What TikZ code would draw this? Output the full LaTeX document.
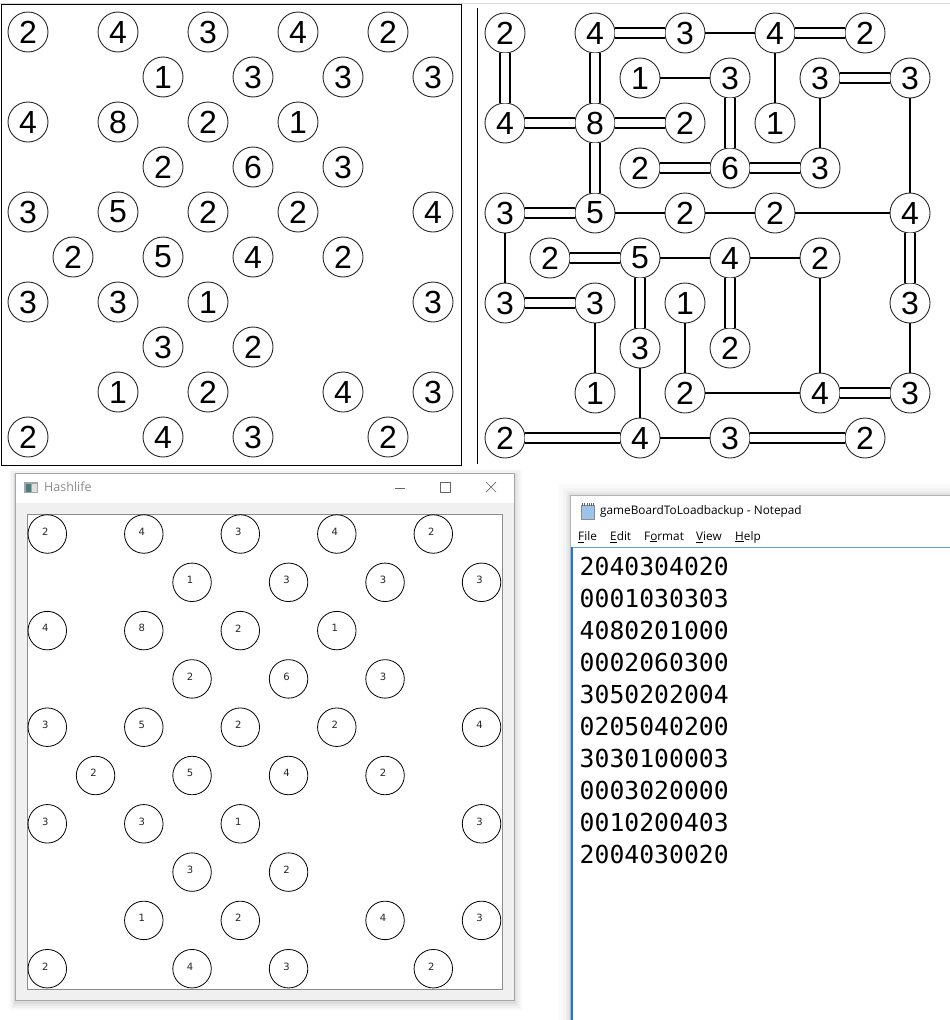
\documentclass[tikz,border=0pt]{standalone}
\usepackage{fontspec}
\setmainfont{Liberation Sans}
\setmonofont{DejaVu Sans Mono}
\newfontfamily\uifont{Open Sans}
\newfontfamily\cellfont{DejaVu Sans}
\usetikzlibrary{calc}
\definecolor{winbg}{HTML}{F0F0F0}
\definecolor{focusblue}{HTML}{1E78D2}
\definecolor{padblue}{HTML}{9CC4EA}

% islands of the puzzle: column/row/value
\newcommand{\puzzle}{0/0/2,2/0/4,4/0/3,6/0/4,8/0/2,
  3/1/1,5/1/3,7/1/3,9/1/3,
  0/2/4,2/2/8,4/2/2,6/2/1,
  3/3/2,5/3/6,7/3/3,
  0/4/3,2/4/5,4/4/2,6/4/2,9/4/4,
  1/5/2,3/5/5,5/5/4,7/5/2,
  0/6/3,2/6/3,4/6/1,9/6/3,
  3/7/3,5/7/2,
  2/8/1,4/8/2,7/8/4,9/8/3,
  0/9/2,3/9/4,5/9/3,8/9/2}

\begin{document}
\begin{tikzpicture}[x=1pt, y=-1pt,
    island/.style={draw=black!85, circle, minimum size=40pt, inner sep=0pt, line width=0.9pt, font=\fontsize{32}{32}\selectfont},
    cell/.style={draw=black, circle, minimum size=38.5pt, inner sep=0pt, line width=0.8pt},
    tag/.style={inner sep=0pt, text=black!85, font=\cellfont\fontsize{10}{10}\selectfont},
    bridge/.style={line width=1.8pt},
    dbridge/.style={line width=1.8pt, double, double distance=8pt},
    menu/.style={anchor=west, inner sep=0pt, font=\uifont\fontsize{11.8}{12}\selectfont},
    digits/.style={anchor=west, inner sep=0pt, font=\ttfamily\fontsize{24.75}{26}\selectfont}]
  \useasboundingbox (0,0) rectangle (950,1020);
  \draw[black!15] (0,3) -- (950,3);

  % puzzle and solution frames
  \draw[line width=1pt] (1,4.5) rectangle (461.5,465);
  \draw[line width=1pt] (477.5,8) -- (477.5,464);

  % Hashlife window
  \foreach \s/\o in {7/0.025,5/0.03,3/0.04,1.5/0.05}
    \fill[black, opacity=\o] (15.5-\s,473.5-\s+2) rectangle (514.5+\s,1000.5+\s+2);
  \filldraw[fill=winbg, draw=black!35] (15.5,473.5) rectangle (514.5,1000.5);
  \fill[white] (16,474) rectangle (514,503);
  \fill[black!35] (24,482) rectangle (38,493);
  \fill[teal!45!gray] (25.5,483.5) rectangle (31,491.5);
  \fill[black!12] (32,483.5) rectangle (36.5,491.5);
  \node[menu, text=black!45, font=\uifont\fontsize{12.5}{13}\selectfont] (hltitle) at (44,487) {Hashlife};
  \draw[black!60, line width=0.7pt] (395,488) -- (405,488);
  \draw[black!60, line width=0.7pt] (440.5,482.5) rectangle (450.5,492.5);
  \draw[black!60, line width=0.7pt] (486,482) -- (496,492) (486,492) -- (496,482);
  \filldraw[fill=white, draw=black!45] (27,514) rectangle (502,989);

  % Notepad window
  \foreach \s/\o in {12/0.02,8/0.025,5/0.03,2.5/0.04}
    \fill[black, opacity=\o] (570.5-\s,495.5-\s) rectangle (980,1040);
  \fill[white] (570.5,495.5) rectangle (980,1040);
  \draw[black!30] (570.5,1020) -- (570.5,495.5) -- (950,495.5);
  \fill[padblue] (581,505) rectangle (594,519);
  \draw[black!45, line width=0.6pt] (581,505) rectangle (594,519);
  \foreach \k in {0,...,5}
    \draw[black!60, line width=0.8pt] (582.5+2.2*\k,503) -- (582.5+2.2*\k,506);
  \node[menu] (nptitle) at (600,511) {gameBoardToLoadbackup - Notepad};
  \node[menu] (mfile) at (578,537) {\underline{F}ile};
  \node[menu] (medit) at (610,537) {\underline{E}dit};
  \node[menu] (mformat) at (644,537) {F\underline{o}rmat};
  \node[menu] (mview) at (696,537) {\underline{V}iew};
  \node[menu] (mhelp) at (735,537) {\underline{H}elp};
  \draw[focusblue!70, line width=0.8pt] (571,547.5) -- (950,547.5);
  \draw[focusblue, line width=2.2pt] (572,547) -- (572,1020);
  \foreach \txt [count=\i from 0] in {2040304020,0001030303,4080201000,0002060300,3050202004,
      0205040200,3030100003,0003020000,0010200403,2004030020}
    \node[digits] (line\i) at (579.5,566+32.1*\i) {\txt};

  % islands on the three boards
  \foreach \c/\r/\v in \puzzle {
    \node[island] (L-\c-\r) at (28+45*\c,32+45*\r) {\v};
    \node[island] (R-\c-\r) at (505+45*\c,33+45*\r) {\v};
    \node[cell] (H-\c-\r) at (47.3+48.25*\c,534+48.3*\r) {};
    \node[tag] (HT-\c-\r) at ($(H-\c-\r)+(-2,-2.3)$) {\v};
  }

  % bridges of the solution
  \foreach \a/\b in {4-0/6-0,3-1/5-1,6-0/6-2,7-1/7-3,9-1/9-4,2-4/4-4,4-4/6-4,6-4/9-4,0-4/0-6,
      3-5/5-5,5-5/7-5,7-5/7-8,2-6/2-8,4-6/4-8,9-6/9-8,3-7/3-9,4-8/7-8,3-9/5-9}
    \draw[bridge] (R-\a) -- (R-\b);
  \foreach \a/\b in {0-0/0-2,2-0/4-0,6-0/8-0,2-0/2-2,7-1/9-1,5-1/5-3,0-2/2-2,2-2/4-2,2-2/2-4,
      3-3/5-3,5-3/7-3,0-4/2-4,1-5/3-5,9-4/9-6,0-6/2-6,3-5/3-7,5-5/5-7,7-8/9-8,0-9/3-9,5-9/8-9}
    \draw[dbridge] (R-\a) -- (R-\b);
\end{tikzpicture}
\end{document}
